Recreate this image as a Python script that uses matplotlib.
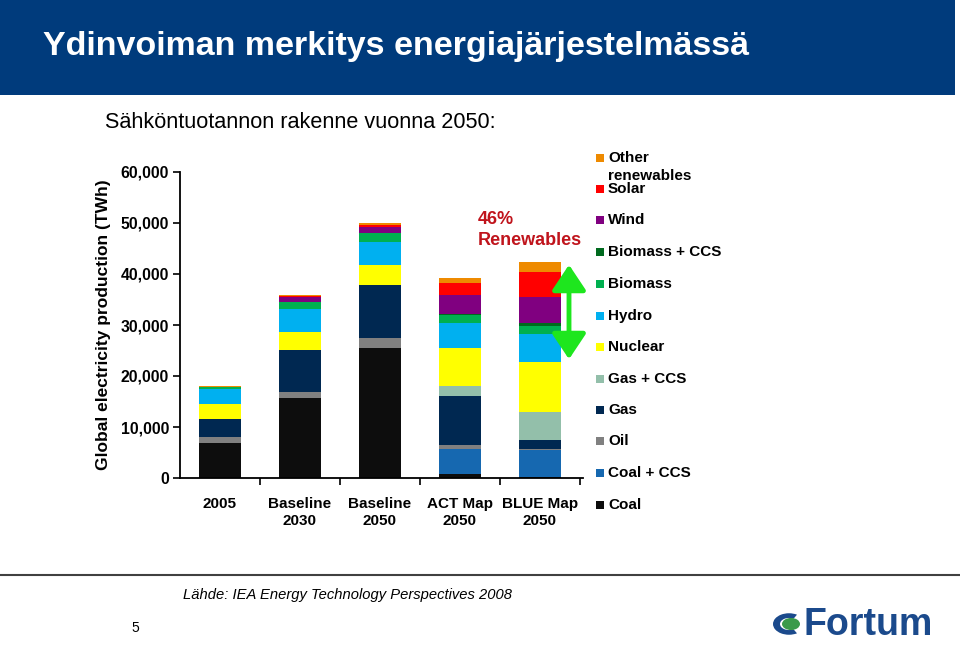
import matplotlib
matplotlib.use("Agg")
import matplotlib.pyplot as plt
from matplotlib.patches import Rectangle, Circle, Wedge, FancyArrowPatch
import numpy as np

plt.rcParams['font.family'] = ['Liberation Sans', 'DejaVu Sans']

categories = ["2005", "Baseline\n2030", "Baseline\n2050", "ACT Map\n2050", "BLUE Map\n2050"]
series_names = ["Coal", "Coal + CCS", "Oil", "Gas", "Gas + CCS", "Nuclear", "Hydro",
                "Biomass", "Biomass + CCS", "Wind", "Solar", "Other\nrenewables"]
series_colors = ["#0d0d0d", "#1668b0", "#808080", "#002851", "#93bfaa", "#ffff00", "#00b0f0",
                 "#00b050", "#006a1e", "#800080", "#ff0000", "#ee8a00"]

coal        = [6900, 15600, 25500, 700, 100]
coal_ccs    = [0, 0, 0, 5000, 5400]
oil         = [1200, 1300, 1900, 800, 150]
gas         = [3500, 8200, 10400, 9500, 1800]
gas_ccs     = [0, 0, 0, 2000, 5400]
nuclear     = [3000, 3500, 3900, 7400, 9900]
hydro       = [2900, 4600, 4600, 5000, 5400]
biomass     = [300, 1250, 1650, 1500, 1600]
biomass_ccs = [0, 0, 0, 300, 600]
wind        = [0, 1000, 1300, 3700, 5200]
solar       = [0, 200, 400, 2300, 4800]
other_ren   = [200, 200, 300, 1000, 2000]

series = [coal, coal_ccs, oil, gas, gas_ccs, nuclear, hydro, biomass, biomass_ccs,
          wind, solar, other_ren]

yticks = [0, 10000, 20000, 30000, 40000, 50000, 60000]
ytick_labels = ["0", "10,000", "20,000", "30,000", "40,000", "50,000", "60,000"]

W, H = 960, 645
fig = plt.figure(figsize=(W / 100, H / 100), dpi=100)

def fx(px):
    return px / W

def fy(py):
    return 1 - py / H

# Title bar
fig.patches.append(Rectangle((0, fy(95)), fx(955), 95 / H, transform=fig.transFigure,
                             facecolor="#003b7c", edgecolor="none", zorder=0))
fig.text(fx(43), fy(47), "Ydinvoiman merkitys energiajärjestelmässä", color="white",
         fontsize=24.5, fontweight="bold", va="center", ha="left")
fig.text(fx(105), fy(122), "Sähköntuotannon rakenne vuonna 2050:", color="black",
         fontsize=15.6, va="center", ha="left")

# Axes
ax = fig.add_axes([fx(180), fy(478), fx(583) - fx(180), (478 - 172) / H])
x = np.arange(len(categories))
bottom = np.zeros(len(categories))
for vals, col in zip(series, series_colors):
    ax.bar(x, vals, width=0.525, bottom=bottom, color=col, edgecolor="none", zorder=2)
    bottom += np.array(vals)

ax.set_xlim(-0.5, 4.54)
ax.set_ylim(0, 60000)
ax.set_yticks(yticks)
ax.set_yticklabels(ytick_labels, fontsize=11.3, fontweight="bold")
ax.set_xticks(x)
ax.set_xticklabels(categories, fontsize=11, fontweight="bold", linespacing=1.25)
ax.set_xticks([0.5, 1.5, 2.5, 3.5, 4.5], minor=True)
ax.tick_params(axis="x", which="major", length=0, pad=14)
ax.tick_params(axis="x", which="minor", length=5, width=1.2, direction="out")
ax.tick_params(axis="y", length=5, width=1.2, direction="out", pad=3)
for s in ["top", "right"]:
    ax.spines[s].set_visible(False)
for s in ["left", "bottom"]:
    ax.spines[s].set_linewidth(1.3)
ax.set_ylabel("Global electricity production (TWh)", fontsize=12.5, fontweight="bold",
              labelpad=7)

# Annotation
fig.text(fx(478), fy(220), "46%", color="#c0141c", fontsize=13, fontweight="bold",
         va="center", ha="left")
fig.text(fx(478), fy(241), "Renewables", color="#c0141c", fontsize=13, fontweight="bold",
         va="center", ha="left")
arrow = FancyArrowPatch((fx(569), fy(262)), (fx(569), fy(362)), transform=fig.transFigure,
                        arrowstyle="<|-|>,head_length=6,head_width=4", color="#1ee61e",
                        linewidth=3.5, mutation_scale=2.6)
fig.patches.append(arrow)

# Legend (top to bottom)
leg_y = [158, 189, 220, 252, 284, 316, 347, 379, 410, 441, 473, 505]
for i, (name, col) in enumerate(zip(series_names[::-1], series_colors[::-1])):
    yc = leg_y[i]
    fig.patches.append(Rectangle((fx(596), fy(yc + 4)), fx(8), 8 / H,
                                 transform=fig.transFigure, facecolor=col,
                                 edgecolor="none"))
    if "\n" in name:
        first, second = name.split("\n")
        fig.text(fx(608), fy(yc), first, fontsize=11, fontweight="bold",
                 va="center", ha="left")
        fig.text(fx(608), fy(yc + 18), second, fontsize=11, fontweight="bold",
                 va="center", ha="left")
    else:
        fig.text(fx(608), fy(yc), name, fontsize=11, fontweight="bold",
                 va="center", ha="left")

# Footer
fig.lines.append(plt.Line2D([0, 1], [fy(575), fy(575)], transform=fig.transFigure,
                            color="#404040", linewidth=1.5))
fig.text(fx(183), fy(595), "Lähde: IEA Energy Technology Perspectives 2008",
         fontsize=10.6, style="italic", va="center", ha="left")
fig.text(fx(131), fy(628), "5", fontsize=10, va="center", ha="left")

# Fortum logo
lx, ly = 789, 624
fig.patches.append(Wedge((fx(lx), fy(ly)), 16 / W, 60, 300, width=7 / W,
                         transform=fig.transFigure, facecolor="#1b4a8c",
                         edgecolor="none"))
fig.patches.append(Circle((fx(lx + 2), fy(ly)), 9 / W, transform=fig.transFigure,
                          facecolor="#3a9a4a", edgecolor="none"))
fig.text(fx(803), fy(625), "Fortum", fontsize=27, fontweight="bold", color="#1b4a8c",
         va="center", ha="left")

fig.savefig("out.png", dpi=100)
